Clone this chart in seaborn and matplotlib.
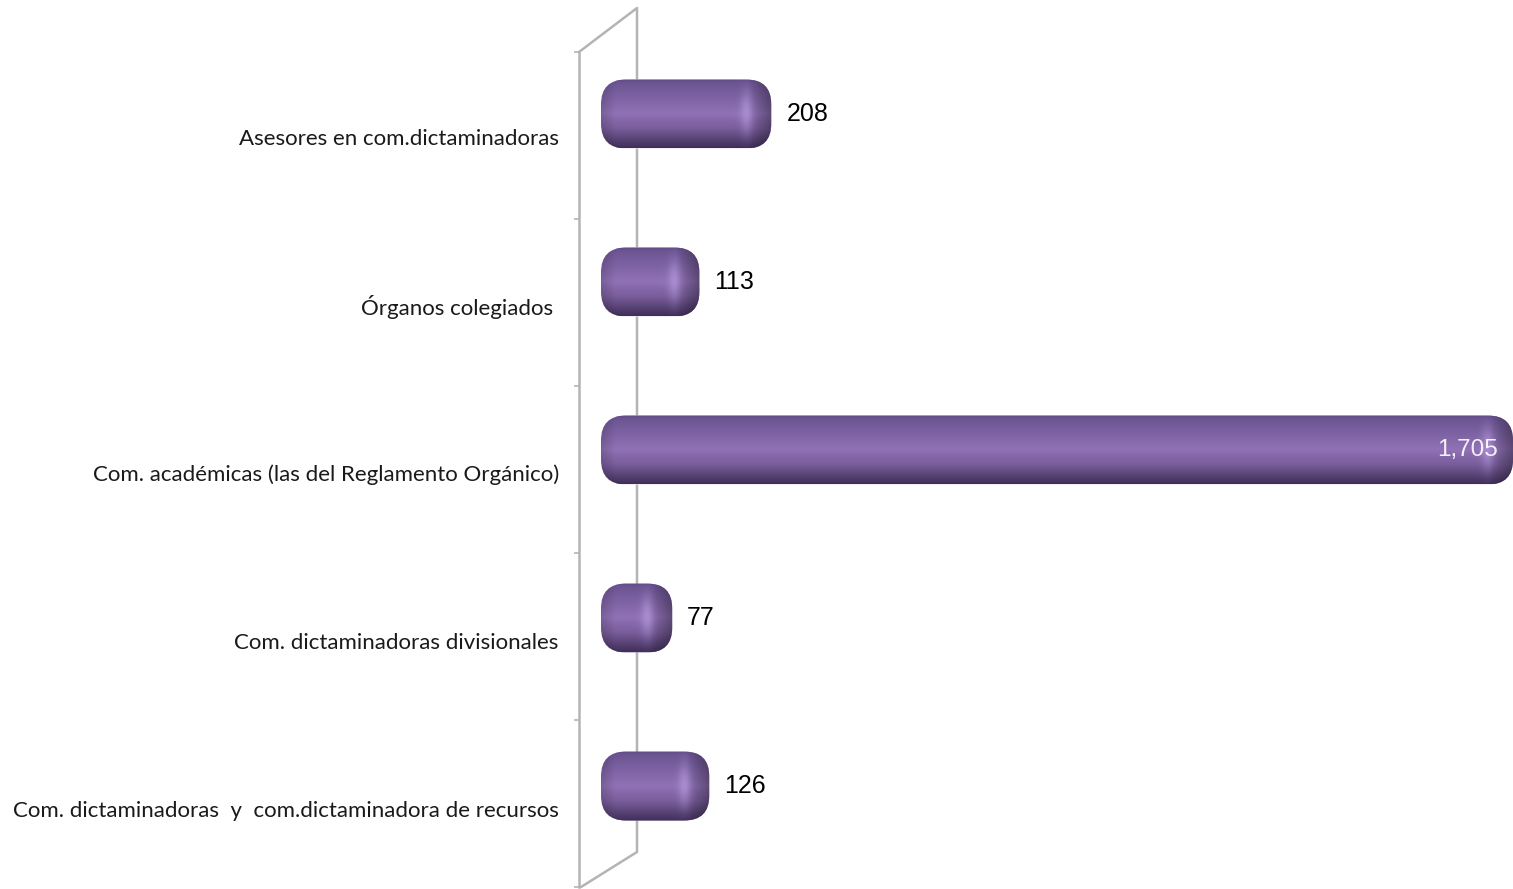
# Horizontal pill shaped bars on a grey 3D style wall

import numpy as np
import pandas as pd
import seaborn as sns
import matplotlib
matplotlib.use("Agg")
import matplotlib.pyplot as plt
from matplotlib.patches import FancyBboxPatch
from matplotlib.transforms import Affine2D, ScaledTranslation

categories = [
    "Asesores en com.dictaminadoras",
    "Órganos colegiados ",
    "Com. académicas (las del Reglamento Orgánico)",
    "Com. dictaminadoras divisionales",
    "Com. dictaminadoras  y  com.dictaminadora de recursos",
]
values = [208, 113, 1705, 77, 126]

W, H = 1513, 889
GREY = "#b4b4b4"
X_MAX = 1189        # the long bar runs into the edge of the picture
CAP = 13            # px the rounded end sticks out left of zero

sns.set_theme(style="white")
plt.rcParams["font.family"] = ["Lato", "DejaVu Sans"]

fig = plt.figure(figsize=(W / 100, H / 100), dpi=100)
ax = fig.add_axes([579 / W, (H - 887) / H, (W - 579) / W, (887 - 52) / H])
ax.patch.set_alpha(0)

df = pd.DataFrame({"cat": categories, "val": values})
sns.barplot(data=df, y="cat", x="val", color="#8e6fb3", width=69 / 168, ax=ax, zorder=3)

x_zero = -(614 - 579) / 0.756
ax.set_xlim(x_zero, X_MAX)
ax.set_ylim((887 - 114) / 168, (52 - 114) / 168)
ax.set_xlabel("")
ax.set_ylabel("")
ax.xaxis.set_visible(False)
sns.despine(ax=ax, top=True, right=True, bottom=True)
ax.spines["left"].set_color(GREY)
ax.spines["left"].set_linewidth(1.8)

# tick marks sit between the categories, labels in the front plane
ax.set_yticks((52 + np.arange(6) * 167 - 114) / 168, minor=True)
ax.tick_params(axis="y", which="minor", left=True, length=3.6, width=1.2, color=GREY)
ax.tick_params(axis="y", which="major", left=False, pad=8.5, labelsize=16, labelcolor="#1a1a1a")
for lab in ax.get_yticklabels():
    lab.set_transform(lab.get_transform() + ScaledTranslation(0, -23 / 100, fig.dpi_scale_trans))

# back edge of the wall, in picture pixels
px = Affine2D().scale(1, -1).translate(0, H)
ax.plot([579, 637, 637, 581], [52, 8, 852, 887], color=GREY, lw=1.8,
        transform=px, clip_on=False, zorder=1)


def pill_image(w, h):
    ys = np.linspace(0, 1, h)
    stops = [0, 0.05, 0.3, 0.5, 0.72, 0.92, 1]
    reds = [0x62, 0x6c, 0x80, 0x90, 0x78, 0x50, 0x40]
    grns = [0x4c, 0x54, 0x65, 0x71, 0x5d, 0x3c, 0x30]
    blus = [0x88, 0x92, 0xa6, 0xb6, 0x9a, 0x6c, 0x58]
    col = np.stack([np.interp(ys, stops, c) for c in (reds, grns, blus)], axis=1) / 255
    img = np.repeat(col[:, None, :], w, axis=1)
    xs = np.arange(w)
    # dark round ends and the small highlight near the right one
    dark = 1 - 0.36 * np.clip((xs - (w - 24)) / 24, 0, 1) - 0.15 * np.clip((14 - xs) / 14, 0, 1)
    img *= dark[None, :, None]
    glow = np.exp(-((xs - (w - 26)) / 6.0) ** 2)[None, :] * np.exp(-((ys - 0.48) / 0.28) ** 2)[:, None]
    img += (np.array([0.72, 0.62, 0.88]) - img) * (0.6 * glow)[:, :, None]
    return np.clip(img, 0, 1)


to_px = ax.transData + px.inverted()
for bar, v in zip(ax.containers[0], values):
    y_mid = bar.get_y() + bar.get_height() / 2
    x1 = to_px.transform((min(v, X_MAX), y_mid))[0]
    x0 = to_px.transform((0, y_mid))[0] - CAP
    top = to_px.transform((0, bar.get_y()))[1]
    bot = to_px.transform((0, bar.get_y() + bar.get_height()))[1]
    shape = FancyBboxPatch((x0, top), x1 - x0, bot - top, boxstyle="round,pad=0,rounding_size=25",
                           transform=px, facecolor="none", edgecolor="none")
    ax.add_patch(shape)
    shape.set_clip_on(False)
    bar.set_clip_path(shape)
    im = ax.imshow(pill_image(int(x1 - x0), int(bot - top)), aspect="auto", zorder=4,
                   extent=(x0, x1, bot, top), transform=px, interpolation="bilinear")
    im.set_clip_path(shape)

    if v > X_MAX:
        ax.annotate(f"{v:,}", (min(v, X_MAX), y_mid), xytext=(-15 * 0.72, 0), textcoords="offset points",
                    ha="right", va="center", color="white", fontsize=17.5,
                    family="Liberation Sans", zorder=5, alpha=0.9)
    else:
        ax.annotate(f"{v:,}", (v, y_mid), xytext=(15 * 0.72, 0), textcoords="offset points",
                    ha="left", va="center", color="black", fontsize=18,
                    family="Liberation Sans", zorder=5)

ax.set_xlim(x_zero, X_MAX)
ax.set_ylim((887 - 114) / 168, (52 - 114) / 168)

fig.savefig("out.png", dpi=100)
